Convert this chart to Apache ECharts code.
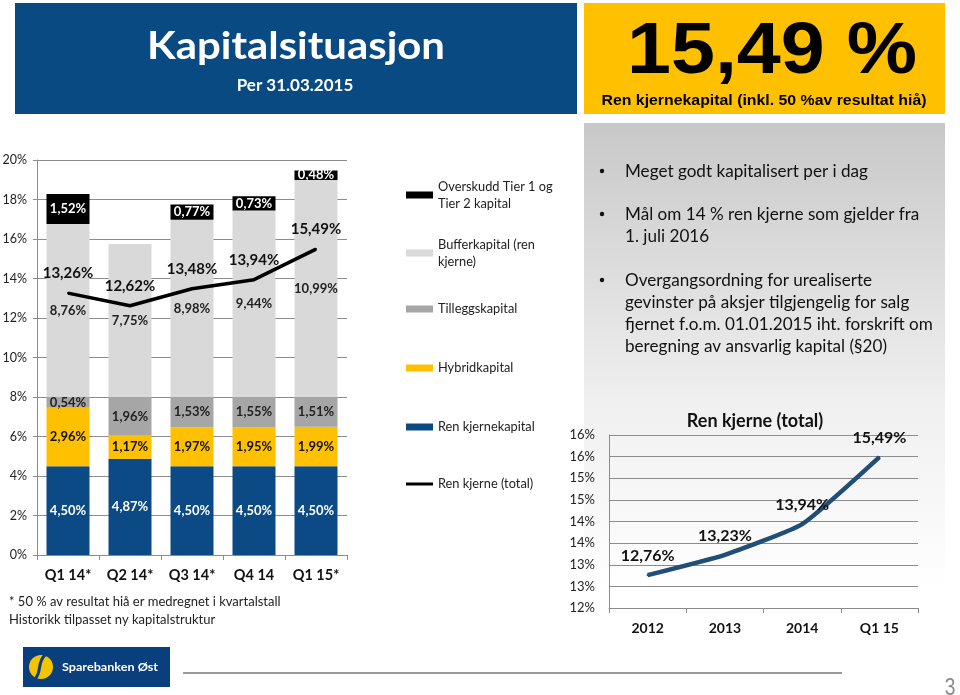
<!DOCTYPE html>
<html><head><meta charset="utf-8">
<script src="https://cdn.jsdelivr.net/npm/echarts@6/dist/echarts.min.js"></script>
<style>html,body{margin:0;padding:0;background:#fff}#c{width:960px;height:695px}</style>
</head><body><div id="c"></div>
<script>
// ---- data ----
const categories = ['Q1 14*', 'Q2 14*', 'Q3 14*', 'Q4 14', 'Q1 15*'];
const renKjernekapital = [4.50, 4.87, 4.50, 4.50, 4.50];
const hybridkapital = [2.96, 1.17, 1.97, 1.95, 1.99];
const tilleggskapital = [0.54, 1.96, 1.53, 1.55, 1.51];
const bufferkapital = [8.76, 7.75, 8.98, 9.44, 10.99];
const overskudd = [1.52, null, 0.77, 0.73, 0.48];
const renKjerneTotal = [13.26, 12.62, 13.48, 13.94, 15.49];
const yearCategories = ['2012', '2013', '2014', 'Q1 15'];
const renKjerneYear = [12.76, 13.23, 13.94, 15.49];

const F = 'Lato, "Open Sans", sans-serif';
const pct = v => (v == null ? '' : v.toFixed(2).replace('.', ',') + '%');

function measure(text, font) {
  const ctx = document.createElement('canvas').getContext('2d');
  ctx.font = font;
  return ctx.measureText(text).width;
}
function fit(text, font, w) { return w / measure(text, font); }

const chart = echarts.init(document.getElementById('c'), null, {renderer: 'canvas', width: 960, height: 695});

function barSeries(name, data, color, labelColor, fontSize) {
  return {
    name, type: 'bar', stack: 'kap', data, barWidth: 43,
    itemStyle: {color},
    label: {show: true, position: 'inside', formatter: p => pct(p.value), color: labelColor,
      fontFamily: F, fontWeight: 'bold', fontSize},
    emphasis: {disabled: true}
  };
}

const legendDefs = [
  {name: 'Overskudd Tier 1 og Tier 2 kapital', text: 'Overskudd Tier 1 og\nTier 2 kapital', c: 192, two: true},
  {name: 'Bufferkapital (ren kjerne)', text: 'Bufferkapital (ren\nkjerne)', c: 250, two: true},
  {name: 'Tilleggskapital', text: 'Tilleggskapital', c: 308},
  {name: 'Hybridkapital', text: 'Hybridkapital', c: 367},
  {name: 'Ren kjernekapital', text: 'Ren kjernekapital', c: 426},
  {name: 'Ren kjerne (total)', text: 'Ren kjerne (total)', c: 483, line: true}
];

const bigFont = 'bold 73px "Liberation Sans", Arial, sans-serif';
const subFont = 'bold 14px "Liberation Sans Narrow", "Liberation Sans", Arial, sans-serif';
const subText = 'Ren kjernekapital (inkl. 50 %av resultat hiå)';
const titleFont = 'bold 38px Lato, sans-serif';
const bulletFont = '16px Lato, sans-serif';
const bulletSize = 16 * fit('Meget godt kapitalisert per i dag', bulletFont, 243);
const logoFont = 'bold 12px Lato, sans-serif';

const bullets = [
  {y: 171, lines: ['Meget godt kapitalisert per i dag']},
  {y: 214, lines: ['Mål om 14 % ren kjerne som gjelder fra', '1. juli 2016']},
  {y: 280, lines: ['Overgangsordning for urealiserte', 'gevinster på aksjer tilgjengelig for salg', 'fjernet f.o.m. 01.01.2015 iht. forskrift om', 'beregning av ansvarlig kapital (§20)']}
];
const bulletEls = [];
bullets.forEach(b => {
  bulletEls.push({type: 'circle', shape: {cx: 602, cy: b.y, r: 2.2}, style: {fill: '#111'}});
  b.lines.forEach((t, i) => bulletEls.push({type: 'text', x: 625, y: b.y + i * 22,
    style: {text: t, fill: '#111', font: bulletSize.toFixed(2) + 'px Lato, sans-serif', textVerticalAlign: 'middle'}}));
});

const option = {
  animation: false,
  backgroundColor: '#fff',
  title: {text: 'Ren kjerne (total)', left: 750, top: 407, textAlign: 'center',
    textStyle: {fontFamily: F, fontWeight: 'bold', fontSize: 18, color: '#111'}},
  legend: legendDefs.map(d => ({
    data: [d.name], left: 401, top: (d.two ? d.c - 22.5 : d.c - 7.5) - 5, orient: 'vertical',
    itemWidth: 27, itemHeight: d.line ? 3 : 7, selectedMode: false,
    icon: 'rect',
    formatter: () => d.text,
    textStyle: {fontFamily: F, fontSize: 12.8, lineHeight: 17, color: '#222', padding: d.two ? [17, 0, 0, 0] : 0}
  })),
  grid: [
    {left: 37, top: 160, width: 310, height: 395, outerBoundsMode: 'none', containLabel: false},
    {left: 609, top: 435, width: 309, height: 173, outerBoundsMode: 'none', containLabel: false}
  ],
  xAxis: [
    {type: 'category', gridIndex: 0, data: categories,
      axisLine: {show: true, lineStyle: {color: '#8c8c8c', width: 1}},
      axisTick: {show: true, length: 5, lineStyle: {color: '#8c8c8c'}},
      axisLabel: {margin: 13, fontFamily: F, fontWeight: 'bold', fontSize: 14.5, color: '#111'}},
    {type: 'category', gridIndex: 1, data: yearCategories,
      axisLine: {show: true, lineStyle: {color: '#8c8c8c', width: 1}},
      axisTick: {show: true, length: 5, lineStyle: {color: '#8c8c8c'}},
      axisLabel: {margin: 13, fontFamily: F, fontWeight: 'bold', fontSize: 14, color: '#111'}}
  ],
  yAxis: [
    {type: 'value', gridIndex: 0, min: 0, max: 20, interval: 2,
      axisLine: {show: true, lineStyle: {color: '#8c8c8c'}},
      axisTick: {show: true, length: 4, lineStyle: {color: '#8c8c8c'}},
      splitLine: {show: true, lineStyle: {color: '#8c8c8c', width: 1}},
      axisLabel: {formatter: '{value}%', margin: 10, fontFamily: F, fontSize: 12.5, color: '#222'}},
    {type: 'value', gridIndex: 1, min: 12, max: 16, interval: 0.5,
      axisLine: {show: true, lineStyle: {color: '#8c8c8c'}},
      axisTick: {show: false},
      splitLine: {show: true, lineStyle: {color: '#8c8c8c', width: 1}},
      axisLabel: {formatter: v => Math.round(v) + '%', margin: 14, fontFamily: F, fontSize: 13, color: '#222'}}
  ],
  series: [
    barSeries('Ren kjernekapital', renKjernekapital, '#0b4a84', '#fff', 13),
    barSeries('Hybridkapital', hybridkapital, '#ffc000', '#111', 13),
    barSeries('Tilleggskapital', tilleggskapital, '#a6a6a6', '#222', 13),
    barSeries('Bufferkapital (ren kjerne)', bufferkapital, '#d9d9d9', '#222', 13),
    barSeries('Overskudd Tier 1 og Tier 2 kapital', overskudd, '#000', '#fff', 13),
    {name: 'Ren kjerne (total)', type: 'line', data: renKjerneTotal, symbol: 'circle', symbolSize: 2, showSymbol: true,
      lineStyle: {color: '#000', width: 3.5}, itemStyle: {color: '#000'}, z: 5,
      label: {show: true, position: 'top', distance: 11, formatter: p => pct(p.value),
        fontFamily: F, fontWeight: 'bold', fontSize: 15, color: '#111'}},
    {name: 'Ren kjerne (total) per år', type: 'line', xAxisIndex: 1, yAxisIndex: 1, data: renKjerneYear,
      symbol: 'circle', symbolSize: 2, showSymbol: true, smooth: 0.15,
      lineStyle: {color: '#1f4e79', width: 4.5}, itemStyle: {color: '#1f4e79'},
      label: {show: true, position: 'top', distance: 10, formatter: p => pct(p.value),
        fontFamily: F, fontWeight: 'bold', fontSize: 16, color: '#111'}}
  ],
  graphic: [
    {type: 'rect', z: -10, shape: {x: 584, y: 123, width: 361, height: 470},
      style: {fill: new echarts.graphic.LinearGradient(0, 0, 0, 1, [
        {offset: 0, color: '#c8c8c8'}, {offset: 0.6, color: '#f0f0f0'}, {offset: 1, color: '#ffffff'}])}},
    {type: 'rect', shape: {x: 15, y: 3, width: 562, height: 111}, style: {fill: '#0a4a83'}},
    {type: 'text', x: 296, y: 47, scaleX: fit('Kapitalsituasjon', titleFont, 298),
      style: {text: 'Kapitalsituasjon', fill: '#fff', font: titleFont, textAlign: 'center', textVerticalAlign: 'middle'}},
    {type: 'text', x: 295, y: 86,
      style: {text: 'Per 31.03.2015', fill: '#fff', font: 'bold 17px Lato, sans-serif', textAlign: 'center', textVerticalAlign: 'middle'}},
    {type: 'rect', shape: {x: 584, y: 3, width: 361, height: 111}, style: {fill: '#ffc000'}},
    {type: 'text', x: 772, y: 53, scaleX: fit('15,49 %', bigFont, 290),
      style: {text: '15,49 %', fill: '#000', font: bigFont, textAlign: 'center', textVerticalAlign: 'middle'}},
    {type: 'text', x: 764, y: 101, scaleX: fit(subText, subFont, 325),
      style: {text: subText, fill: '#000', font: subFont, textAlign: 'center', textVerticalAlign: 'middle'}},
    ...bulletEls,
    {type: 'text', x: 9, y: 602, style: {text: '* 50 % av resultat hiå er medregnet i kvartalstall', fill: '#222', font: '13px Lato, sans-serif', textVerticalAlign: 'middle'}},
    {type: 'text', x: 9, y: 620, style: {text: 'Historikk tilpasset ny kapitalstruktur', fill: '#222', font: '13px Lato, sans-serif', textVerticalAlign: 'middle'}},
    {type: 'rect', shape: {x: 23, y: 647, width: 147, height: 40}, style: {fill: '#0a3f7e'}},
    {type: 'circle', shape: {cx: 41, cy: 667, r: 12}, style: {fill: '#f5c400'}},
    {type: 'bezierCurve', shape: {x1: 45, y1: 655, cpx1: 37, cpy1: 662, cpx2: 42, cpy2: 672, x2: 35, y2: 679},
      style: {stroke: '#0a3f7e', lineWidth: 3, fill: null}},
    {type: 'text', x: 62, y: 667, scaleX: fit('Sparebanken Øst', logoFont, 96),
      style: {text: 'Sparebanken Øst', fill: '#fff', font: logoFont, textVerticalAlign: 'middle'}},
    {type: 'line', shape: {x1: 183, y1: 673, x2: 842, y2: 673}, style: {stroke: '#9a9a9a', lineWidth: 2}},
    {type: 'text', x: 950, y: 688, scaleX: 0.8, style: {text: '3', fill: '#8a8a8a', font: '24px "Liberation Sans", sans-serif', textAlign: 'center', textVerticalAlign: 'middle'}}
  ]
};
chart.setOption(option);
</script>
</body></html>
